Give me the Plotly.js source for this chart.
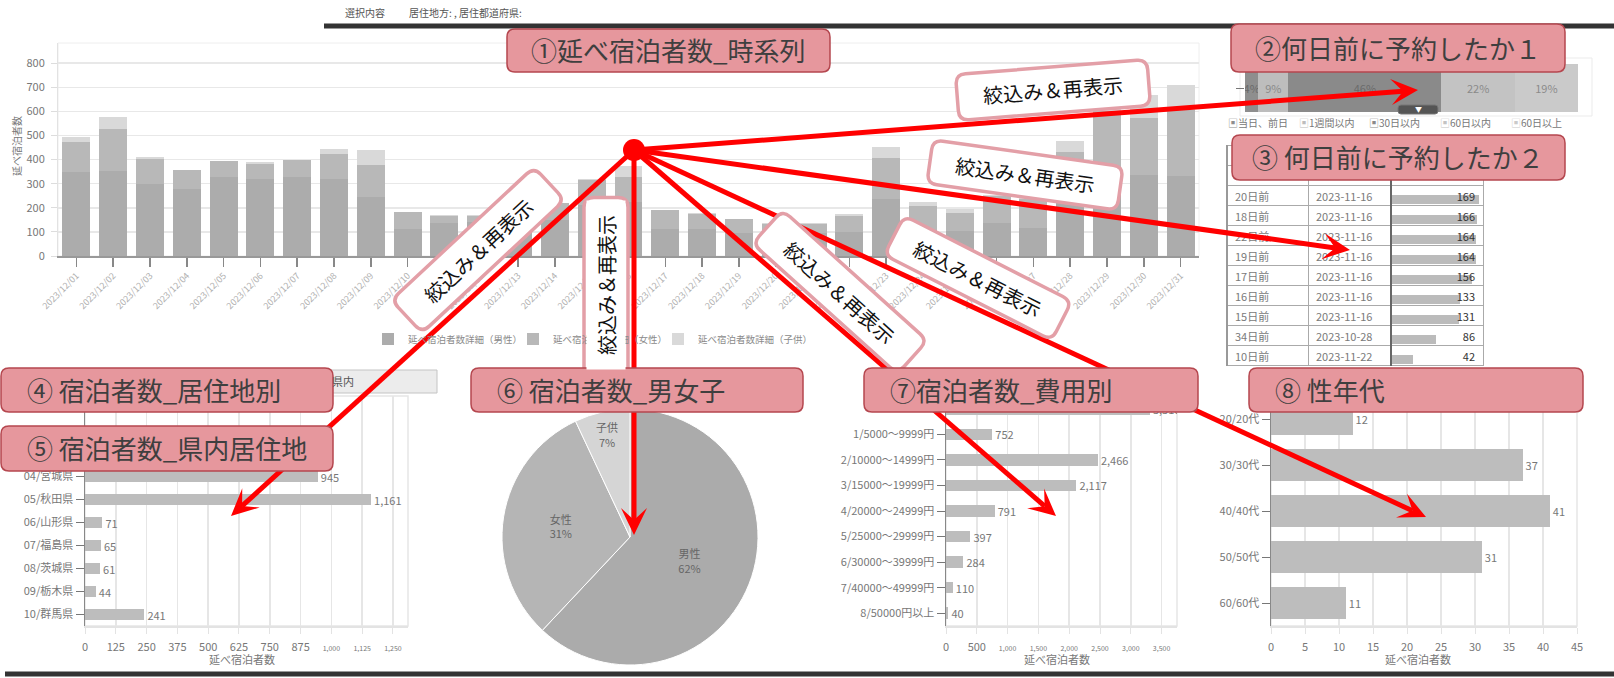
<!DOCTYPE html>
<html><head><meta charset="utf-8">
<script src="https://cdn.plot.ly/plotly-3.0.1.min.js"></script>
<style>html,body{margin:0;padding:0;background:#fff;}#chart{width:1614px;height:678px;}</style>
</head><body><div id="chart"></div>
<script>
// ================= DATA =================
const days = ['2023/12/01','2023/12/02','2023/12/03','2023/12/04','2023/12/05','2023/12/06','2023/12/07','2023/12/08','2023/12/09','2023/12/10',
  '2023/12/11','2023/12/12','2023/12/13','2023/12/14','2023/12/15','2023/12/16','2023/12/17','2023/12/18','2023/12/19','2023/12/20',
  '2023/12/21','2023/12/22','2023/12/23','2023/12/24','2023/12/25','2023/12/26','2023/12/27','2023/12/28','2023/12/29','2023/12/30','2023/12/31'];
const maleStays   = [349,353,299,278,329,320,328,321,245,112,138,140,120,150,210,225,111,112,94,88,95,101,235,108,105,136,118,285,322,336,333];
const femaleStays = [125,173,102,79,64,62,69,104,131,69,30,28,50,69,105,101,78,63,58,46,39,66,170,99,75,114,117,148,278,235,273];
const childStays  = [20,52,8,0,3,7,1,19,62,0,2,2,0,0,3,47,2,2,2,2,2,7,46,18,15,5,5,44,42,97,104];
const stayNames = ['延べ宿泊者数詳細（男性）','延べ宿泊者数詳細（女性）','延べ宿泊者数詳細（子供）'];

const leadCats = ['当日、前日','1週間以内','30日以内','60日以内','60日以上'];
const leadPct  = [4,9,46,22,19];

const tblDays   = ['20日前','18日前','22日前','19日前','17日前','16日前','15日前','34日前','10日前'];
const tblDates  = ['2023-11-16','2023-11-16','2023-11-16','2023-11-16','2023-11-16','2023-11-16','2023-11-16','2023-10-28','2023-11-22'];
const tblCounts = [169,166,164,164,156,133,131,86,42];

// rows 01-03 lie under the title boxes in the reference: their values cannot be read
const prefCats = ['01/北海道','02/青森県','03/岩手県','04/宮城県','05/秋田県','06/山形県','07/福島県','08/茨城県','09/栃木県','10/群馬県'];
const prefVals = [null,null,null,945,1161,71,65,61,44,241];
const prefTickVals = [0,125,250,375,500,625,750,875,1000,1125,1250];
const prefTickText = ['0','125','250','375','500','625','750','875','1,000','1,125','1,250'];

const genderCats = ['男性','女性','子供'];
const genderPct  = [62,31,7];

const costCats = ['0/5000円未満','1/5000～9999円','2/10000～14999円','3/15000～19999円','4/20000～24999円','5/25000～29999円','6/30000～39999円','7/40000～49999円','8/50000円以上'];
const costVals = [3310,752,2466,2117,791,397,284,110,40];
const costTickVals = [0,500,1000,1500,2000,2500,3000,3500];
const costTickText = ['0','500','1,000','1,500','2,000','2,500','3,000','3,500'];

const ageCats = ['20/20代','30/30代','40/40代','50/50代','60/60代'];
const ageVals = [12,37,41,31,11];

// ================= HELPERS =================
const W = 1614, H = 678;
const X = v => v / W, Y = v => 1 - v / H;
const dx = (a, b) => [X(a), X(b)];
const dy = (top, bot) => [Y(bot), Y(top)];
const FONT = "'Noto Sans CJK JP','Noto Sans',sans-serif";
const GRID = '#e6e6e6';
const smallTicks = (vals, txt) => txt.map((t, i) => vals[i] >= 1000 ? '<span style="font-size:7px">' + t + '</span>' : t);

const shapes = [], ann = [];
const lineShape = (x0, y0, x1, y1, color, width, layer) => shapes.push({type:'line', xref:'paper', yref:'paper', x0:X(x0), y0:Y(y0), x1:X(x1), y1:Y(y1), line:{color:color, width:width}, layer:layer || 'above'});
const rectShape = (x0, y0, x1, y1, fill, lc, lw, layer) => shapes.push({type:'rect', xref:'paper', yref:'paper', x0:X(x0), x1:X(x1), y0:Y(y1), y1:Y(y0), fillcolor:fill, line:{color:lc, width:lw}, layer:layer || 'above'});
const pathShape = (path, fill, lc, lw) => shapes.push({type:'path', xref:'paper', yref:'paper', path:path, fillcolor:fill, line:{color:lc, width:lw}, layer:'above'});
const txt = (t, x, y, o) => ann.push(Object.assign({text:t, x:X(x), y:Y(y), xref:'paper', yref:'paper', showarrow:false, xanchor:'center', yanchor:'middle', font:{family:FONT, size:11, color:'#777'}}, o || {}));

function rrectPath(cx, cy, w, h, r, angDeg) {
  const a = angDeg * Math.PI / 180, c = Math.cos(a), s = Math.sin(a);
  const P = (lx, ly) => X(cx + lx * c - ly * s).toFixed(6) + ',' + Y(cy + lx * s + ly * c).toFixed(6);
  const hw = w / 2, hh = h / 2;
  return 'M' + P(-hw + r, -hh) + ' L' + P(hw - r, -hh) + ' Q' + P(hw, -hh) + ' ' + P(hw, -hh + r) +
    ' L' + P(hw, hh - r) + ' Q' + P(hw, hh) + ' ' + P(hw - r, hh) +
    ' L' + P(-hw + r, hh) + ' Q' + P(-hw, hh) + ' ' + P(-hw, hh - r) +
    ' L' + P(-hw, -hh + r) + ' Q' + P(-hw, -hh) + ' ' + P(-hw + r, -hh) + ' Z';
}
function arrowHead(x0, y0, x1, y1) {
  const vx = x1 - x0, vy = y1 - y0, len = Math.hypot(vx, vy), ux = vx / len, uy = vy / len, nx = -uy, ny = ux;
  const L = 27, HW = 13, N = 15;
  const pt = (x, y) => X(x).toFixed(6) + ',' + Y(y).toFixed(6);
  const b1 = [x1 - L * ux + HW * nx, y1 - L * uy + HW * ny];
  const b2 = [x1 - L * ux - HW * nx, y1 - L * uy - HW * ny];
  const nt = [x1 - N * ux, y1 - N * uy];
  return {path:'M' + pt(x1, y1) + ' L' + pt(b1[0], b1[1]) + ' L' + pt(nt[0], nt[1]) + ' L' + pt(b2[0], b2[1]) + ' Z', end:nt};
}

// ================= TRACES =================
const traces = [];
const stayColors = ['#acacac', '#b8b8b8', '#d9d9d9'];
[maleStays, femaleStays, childStays].forEach((vals, i) => {
  traces.push({type:'bar', x:days, y:vals, name:stayNames[i], xaxis:'x', yaxis:'y', width:0.76,
    marker:{color:stayColors[i]}, legend:i === 0 ? 'legend' : 'legend' + (i + 1), hoverinfo:'skip'});
});

const leadColors = ['#8e8e8e', '#bdbdbd', '#8a8a8a', '#c3c3c3', '#cacaca'];
const leadText = ['#6a6a6a', '#8a8a8a', '#6a6a6a', '#8a8a8a', '#8a8a8a'];
leadCats.forEach((c, i) => {
  traces.push({type:'bar', orientation:'h', y:[' '], x:[leadPct[i]], name:c, xaxis:'x2', yaxis:'y2', width:1,
    marker:{color:leadColors[i]}, texttemplate:'%{x}%', textposition:'inside', insidetextanchor:'middle', textangle:0,
    constraintext:'none', textfont:{family:FONT, size:11, color:leadText[i]}, showlegend:false, hoverinfo:'skip'});
});

traces.push({type:'bar', orientation:'h', y:tblDays, x:tblCounts, xaxis:'x3', yaxis:'y3', width:0.45, offset:-0.05,
  marker:{color:'#bbbbbb'}, showlegend:false, hoverinfo:'skip'});
traces.push({type:'table', domain:{x:dx(1227, 1483), y:dy(145, 366)}, columnwidth:[81, 83, 92],
  header:{values:['', '', ''], height:20, fill:{color:'rgba(0,0,0,0)'}, line:{color:'#aaaaaa', width:1}, font:{family:FONT, size:11, color:'#777'}},
  cells:{values:[[''].concat(tblDays), [''].concat(tblDates), [''].concat(tblCounts.map(String))], height:20,
    align:['left', 'left', 'right'], fill:{color:'rgba(0,0,0,0)'}, line:{color:'#aaaaaa', width:1},
    font:{family:FONT, size:11, color:['#7a7a7a', '#7a7a7a', '#333333']}}});

// only rows with a readable value are drawn; the unreadable rows keep their (empty) slots on the axis
const visibleRows = (cats, vals) => vals.map((v, i) => v !== null ? i : -1).filter(i => i >= 0);
const hbar = (cats, vals, xa, ya, w, tpl) => {
  const keep = visibleRows(cats, vals);
  return {type:'bar', orientation:'h', y:keep.map(i => cats[i]), x:keep.map(i => vals[i]), xaxis:xa, yaxis:ya, width:w,
    marker:{color:'#bdbdbd'}, texttemplate:tpl, textposition:'outside', textangle:0, constraintext:'none',
    textfont:{family:FONT, size:11, color:'#777'}, showlegend:false, hoverinfo:'skip'};
};
traces.push(hbar(prefCats, prefVals, 'x4', 'y4', 0.45, '%{x:,}'));
traces.push(hbar(costCats, costVals, 'x5', 'y5', 0.45, '%{x:,}'));
traces.push(hbar(ageCats, ageVals, 'x6', 'y6', 0.71, '%{x}'));

traces.push({type:'pie', labels:genderCats, values:genderPct, sort:false, direction:'clockwise', rotation:0,
  domain:{x:dx(502, 758), y:dy(409, 665)}, marker:{colors:['#ababab', '#b5b5b5', '#d5d5d5'], line:{color:'#ffffff', width:1}},
  texttemplate:'%{label}<br>%{percent:.0%}', textposition:'inside', insidetextorientation:'horizontal',
  textfont:{family:FONT, size:11, color:'#666'}, showlegend:false, hoverinfo:'skip'});

// ================= AXES =================
const tf = {family:FONT, size:11, color:'#777'};
const hAxisX = (a, b, range, extra) => Object.assign({domain:dx(a, b), range:range, tickfont:tf, gridcolor:GRID, gridwidth:1.5,
  showline:true, linecolor:'#e3e3e3', linewidth:2, ticks:'outside', ticklen:6, tickcolor:'#e3e3e3', ticklabelstandoff:4, zeroline:false}, extra);
// cats: all rows; vals: values (null = unreadable row); labelSkip: rows whose label sits under a title box
const hAxisY = (cats, vals, labelSkip) => {
  const keep = visibleRows(cats, vals);
  const shown = keep.map(i => cats[i]);
  const emptyTop = cats.length - keep.length;
  const labelled = shown.slice(labelSkip);
  return {domain:dy(396, 626), type:'category', categoryorder:'array', categoryarray:shown,
    range:[shown.length - 0.5, -0.5 - emptyTop], tickfont:tf, ticks:'outside', ticklen:8,
    tickcolor:'#777', showline:true, linecolor:'#888', linewidth:1.5, showgrid:false, zeroline:false,
    tickmode:'array', tickvals:labelled, ticktext:labelled};
};

const layout = {
  width:W, height:H, margin:{l:0, r:0, t:0, b:0}, paper_bgcolor:'#fff', plot_bgcolor:'rgba(0,0,0,0)',
  font:{family:FONT, size:11, color:'#777'}, barmode:'stack', hovermode:false,
  uniformtext:{mode:'show', minsize:11},
  xaxis:{domain:dx(58, 1199), type:'category', tickmode:'linear', tick0:0, dtick:1, tickangle:-45, tickfont:{family:FONT, size:9, color:'#b0b0b0'},
    ticks:'outside', ticklen:9, tickcolor:'#888', tickwidth:1.5, showline:true, linecolor:'#999', linewidth:2, showgrid:false, anchor:'y'},
  yaxis:{domain:dy(43, 256), range:[0, 884], dtick:100, gridcolor:'#e8e8e8', gridwidth:1.5, tickfont:tf, ticks:'outside', ticklen:6,
    tickcolor:'#dddddd', showline:true, linecolor:'#e2e2e2', zeroline:false, anchor:'x', ticklabelstandoff:4},
  xaxis2:{domain:dx(1245, 1578), range:[0, 100], visible:false, anchor:'y2'},
  yaxis2:{domain:dy(64, 112), type:'category', showticklabels:false, ticks:'outside', ticklen:8, tickcolor:'#777', showgrid:false, showline:false, zeroline:false, anchor:'x2'},
  xaxis3:{domain:dx(1391, 1483), range:[0, 176.7], visible:false, anchor:'y3'},
  yaxis3:{domain:dy(186, 366), type:'category', autorange:'reversed', visible:false, anchor:'x3'},
  xaxis4:hAxisX(85, 408, [0, 1311], {tickmode:'array', tickvals:prefTickVals, ticktext:smallTicks(prefTickVals, prefTickText), anchor:'y4'}),
  yaxis4:Object.assign(hAxisY(prefCats, prefVals, 0), {anchor:'x4'}),
  xaxis5:hAxisX(946, 1177, [0, 3750], {tickmode:'array', tickvals:costTickVals, ticktext:smallTicks(costTickVals, costTickText), anchor:'y5'}),
  yaxis5:Object.assign(hAxisY(costCats, costVals, 1), {anchor:'x5'}),
  xaxis6:hAxisX(1271, 1577, [0, 45], {dtick:5, anchor:'y6'}),
  yaxis6:Object.assign(hAxisY(ageCats, ageVals, 0), {anchor:'x6'}),
};
const legFont = {family:FONT, size:9.5, color:'#8a8a8a'};
[['legend', 368], ['legend2', 513], ['legend3', 658]].forEach(([k, x]) => {
  layout[k] = {x:X(x), y:Y(339), xanchor:'left', yanchor:'middle', orientation:'h', bgcolor:'rgba(0,0,0,0)', font:legFont, itemwidth:30};
});

// ================= DECORATION =================
rectShape(58, 43, 1199, 256, 'rgba(0,0,0,0)', '#eeeeee', 1, 'below');
rectShape(1240, 58, 1592, 116, 'rgba(0,0,0,0)', '#ebebeb', 1, 'below');
rectShape(85, 396, 408, 626, 'rgba(0,0,0,0)', '#e6e6e6', 1.5, 'below');
rectShape(946, 396, 1177, 626, 'rgba(0,0,0,0)', '#e6e6e6', 1.5, 'below');
rectShape(1271, 396, 1577, 626, 'rgba(0,0,0,0)', '#e6e6e6', 1.5, 'below');

lineShape(324, 26, 1614, 26, '#333333', 5);
lineShape(5, 674, 1614, 674, '#333333', 5);
lineShape(1227, 145, 1227, 366, '#999999', 2);
lineShape(1391, 145, 1391, 366, '#666666', 2);
pathShape(rrectPath(1418, 109.5, 40, 9, 3, 0), '#555555', '#777777', 1);
rectShape(250, 370, 437, 393, '#ececec', '#c4c4c4', 1);

const dot = [634, 150];
const targets = [[1418, 90], [1350, 250], [231, 516], [634, 535], [1056, 516], [1426, 517]];
const heads = targets.map(t => arrowHead(dot[0], dot[1], t[0], t[1]));
heads.forEach(h => lineShape(dot[0], dot[1], h.end[0], h.end[1], '#ff0000', 5));
heads.forEach(h => pathShape(h.path, '#ff0000', '#ff0000', 0));
shapes.push({type:'circle', xref:'paper', yref:'paper', x0:X(623), x1:X(645), y0:Y(161), y1:Y(139), fillcolor:'#ff0000', line:{width:0}, layer:'above'});

const filterLabel = '絞込み＆再表示';
const filterBoxes = [[1053, 90, 192, 46, -4.5], [1025, 175, 192, 44, 8], [840, 292, 195, 45, 42], [978, 278, 188, 44, 27], [478, 250, 195, 45, -43], [606, 295, 195, 44, -90]];
filterBoxes.forEach(b => pathShape(rrectPath(b[0], b[1], b[2], b[3], 10, b[4]), '#ffffff', '#e39fa7', 3.5));
filterBoxes.forEach((b, i) => {
  if (i === 5) {
    txt(filterLabel, 606, 285, {textangle:-90, width:166, height:36, bgcolor:'#ffffff', font:{family:FONT, size:20, color:'#111'}});
  } else {
    txt(filterLabel, b[0], b[1], {textangle:b[4], font:{family:FONT, size:20, color:'#111'}});
  }
});

const titleBoxes = [
  [507, 29, 830, 72, '①延べ宿泊者数_時系列', 668.5, 'center'],
  [1231, 24, 1565, 72, '②何日前に予約したか１', 1398, 'center'],
  [1232, 135, 1565, 180, '③ 何日前に予約したか２', 1398, 'center'],
  [1, 368, 333, 412, '④ 宿泊者数_居住地別', 25, 'left'],
  [1, 426, 333, 471, '⑤ 宿泊者数_県内居住地', 25, 'left'],
  [471, 368, 803, 412, '⑥ 宿泊者数_男女子', 495, 'left'],
  [864, 368, 1198, 412, '⑦宿泊者数_費用別', 888, 'left'],
  [1249, 368, 1583, 412, '⑧ 性年代', 1273, 'left']
];
titleBoxes.forEach(b => pathShape(rrectPath((b[0] + b[2]) / 2, (b[1] + b[3]) / 2, b[2] - b[0], b[3] - b[1], 8, 0), '#e6979d', '#b5474f', 1.5));
titleBoxes.forEach(b => txt(b[4], b[5], (b[1] + b[3]) / 2 - 1, {xanchor:b[6], font:{family:FONT, size:26, color:'#3f3f3f'}}));

txt('選択内容', 343, 13, {xanchor:'left', font:{family:FONT, size:10, color:'#555'}});
txt('居住地方: , 居住都道府県:', 407, 13, {xanchor:'left', font:{family:FONT, size:10, color:'#555'}});
txt('延べ宿泊者数', 16, 146, {textangle:-90, font:{family:FONT, size:10, color:'#777'}});
txt('延べ宿泊者数', 242, 659, {font:{family:FONT, size:11, color:'#777'}});
txt('延べ宿泊者数', 1057, 659, {font:{family:FONT, size:11, color:'#777'}});
txt('延べ宿泊者数', 1418, 659, {font:{family:FONT, size:11, color:'#777'}});
txt('県内', 343, 381, {font:{family:FONT, size:11, color:'#555'}});
txt('▼', 1418, 109, {font:{family:FONT, size:7, color:'#ffffff'}});
const leadLegendX = [1226, 1297, 1367, 1438, 1509];
leadCats.forEach((c, i) => txt('<span style="color:' + leadColors[i] + '">▣</span>' + c, leadLegendX[i], 123,
  {xanchor:'left', font:{family:FONT, size:10, color:'#777'}}));

layout.shapes = shapes;
layout.annotations = ann;

Plotly.newPlot('chart', traces, layout, {displayModeBar:false, staticPlot:true});
</script></body></html>
